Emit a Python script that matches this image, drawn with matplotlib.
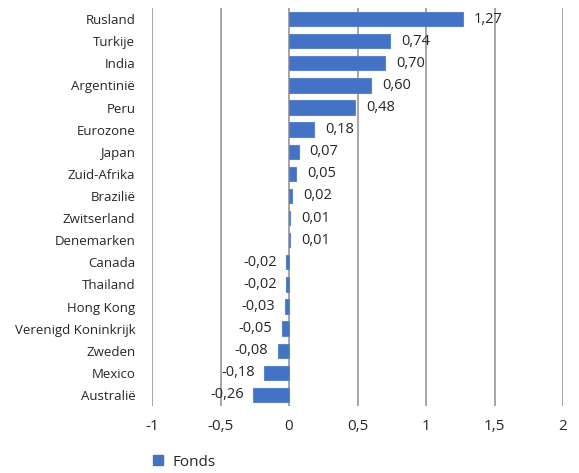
import matplotlib.pyplot as plt
from matplotlib.patches import Patch

# Data
countries = ['Rusland', 'Turkije', 'India', 'Argentinië', 'Peru', 'Eurozone', 'Japan',
             'Zuid-Afrika', 'Brazilië', 'Zwitserland', 'Denemarken', 'Canada', 'Thailand',
             'Hong Kong', 'Verenigd Koninkrijk', 'Zweden', 'Mexico', 'Australië']
values = [1.27, 0.74, 0.70, 0.60, 0.48, 0.18, 0.07, 0.05, 0.02, 0.01, 0.01,
          -0.02, -0.02, -0.03, -0.05, -0.08, -0.18, -0.26]
x_ticks = [-1, -0.5, 0, 0.5, 1, 1.5, 2]
x_tick_labels = ['-1', '-0,5', '0', '0,5', '1', '1,5', '2']

bar_color = '#4472C4'
text_color = '#262626'
grid_color = '#A6A6A6'

plt.rcParams['font.family'] = ['Open Sans', 'DejaVu Sans']
plt.rcParams['font.size'] = 9.5

fig = plt.figure(figsize=(5.79, 4.73), dpi=100)
ax = fig.add_axes([152 / 579, 1 - 406 / 473, (563 - 152) / 579, (406 - 8) / 473])

ypos = list(range(len(countries)))
ax.barh(ypos, values, height=0.65, color=bar_color, edgecolor='#5B84CC',
        linewidth=0.8, zorder=3)

# value labels next to the bar ends
for y, v in zip(ypos, values):
    label = f'{v:.2f}'.replace('.', ',')
    if v >= 0:
        ax.annotate(label, (v, y), xytext=(8, 0), textcoords='offset points',
                    ha='left', va='center', color=text_color, fontsize=10.5)
    else:
        ax.annotate(label, (v, y), xytext=(-7, 0), textcoords='offset points',
                    ha='right', va='center', color=text_color, fontsize=10.5)

ax.set_xlim(-1, 2)
ax.set_ylim(len(countries) - 0.5, -0.5)
ax.set_xticks(x_ticks)
ax.set_xticklabels(x_tick_labels, fontsize=11, color=text_color)
ax.set_yticks(ypos)
ax.set_yticklabels(countries, color=text_color)
ax.tick_params(axis='both', length=0)
ax.tick_params(axis='y', pad=12)
ax.tick_params(axis='x', pad=9)

ax.grid(axis='x', color=grid_color, linewidth=1.4, zorder=0)
ax.axvline(0, color=grid_color, linewidth=1.4, zorder=2)
for side in ['top', 'right', 'bottom', 'left']:
    ax.spines[side].set_visible(False)

fig.legend(handles=[Patch(color=bar_color, label='Fonds')], loc='center left',
           bbox_to_anchor=(139 / 579, 1 - 462 / 473), frameon=False,
           handlelength=0.65, handleheight=0.65, handletextpad=0.65, fontsize=11,
           labelcolor=text_color)

fig.savefig('out.png', dpi=100)
